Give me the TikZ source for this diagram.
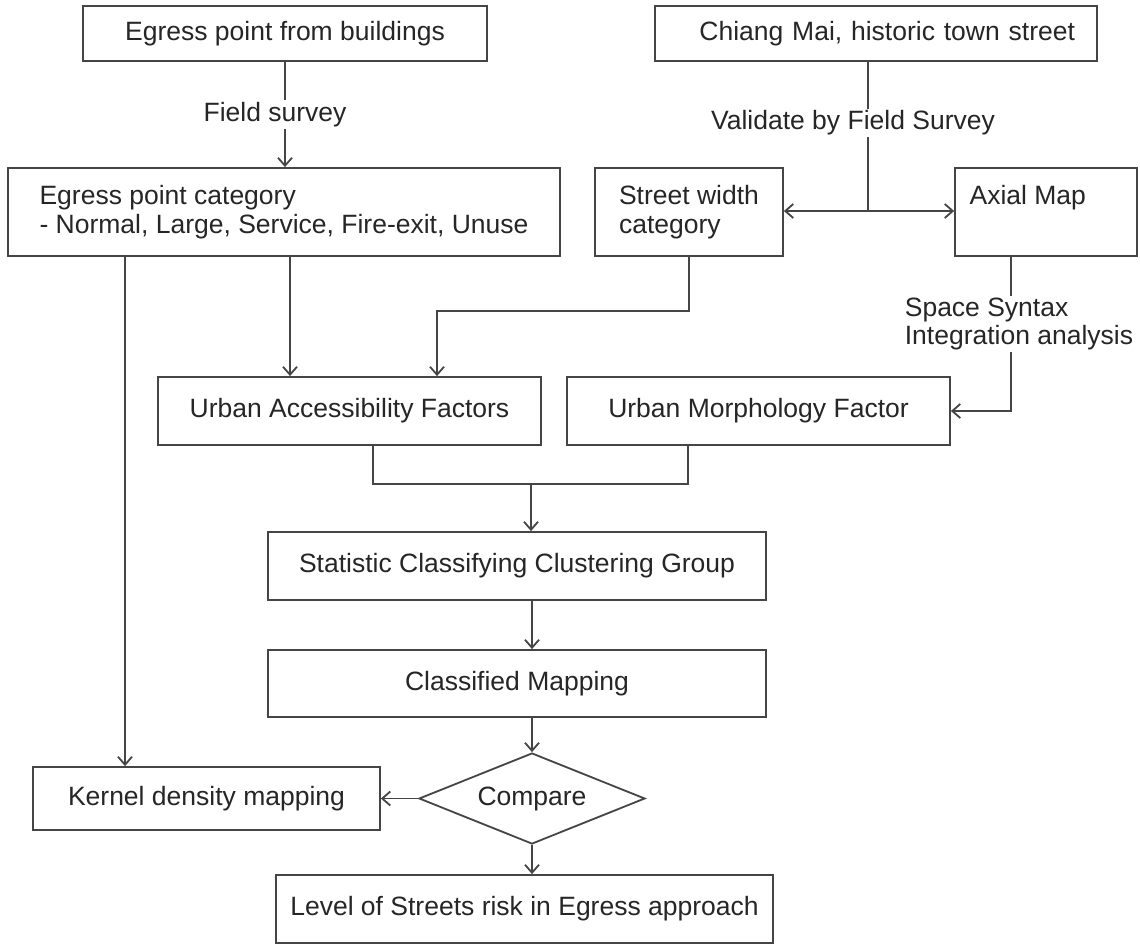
\documentclass[tikz,border=0pt]{standalone}
\usepackage{fontspec}
\setmainfont{Liberation Sans}
\usetikzlibrary{arrows.meta,shapes.geometric,calc}
\definecolor{linec}{HTML}{454545}
\definecolor{txtc}{HTML}{262626}
\tikzset{
  txt/.style={text=txtc, font=\fontsize{26.5pt}{28.5pt}\selectfont},
  box/.style={txt, draw=linec, line width=1.8pt, rectangle, inner sep=0pt, align=center},
  lbl/.style={txt, fill=white, inner sep=2pt, align=left},
  conn/.style={draw=linec, line width=1.8pt},
  arr/.style={conn, -{Straight Barb[length=8pt,width=14pt]}},
}
\begin{document}
\begin{tikzpicture}[x=1pt,y=-1pt]
\fill[white] (0,0) rectangle (1140,944);
\useasboundingbox (0,0) rectangle (1140,944);

% boxes
\node[box, minimum width=404, minimum height=55] (egress) at (285,33.5) {Egress point from buildings};
\node[box, minimum width=442, minimum height=55, text width=398, align=right, inner xsep=22pt] (chiang) at (876,33.5) {Chiang Mai, historic town street};
\node[box, minimum width=552, minimum height=88, align=left] (cat) at (284,212) {Egress point category\\- Normal, Large, Service, Fire-exit, Unuse};
\node[box, minimum width=188, minimum height=88, align=left] (street) at (689,212) {Street width\\category};
\node[box, minimum width=182, minimum height=88] (axial) at (1046,212) {};
\node[txt, anchor=west] (axialt) at ($(axial.north west)+(12,31)$) {Axial Map};
\node[box, minimum width=383, minimum height=68] (access) at (349.5,411) {Urban Accessibility Factors};
\node[box, minimum width=383, minimum height=68] (morph) at (758.5,411) {Urban Morphology Factor};
\node[box, minimum width=498, minimum height=68] (stat) at (517,566) {Statistic Classifying Clustering Group};
\node[box, minimum width=498, minimum height=67] (map) at (517,683.5) {Classified Mapping};
\node[box, minimum width=347, minimum height=63] (kernel) at (206.5,798.5) {Kernel density mapping};
\node[txt, draw=linec, line width=1.8pt, diamond, aspect=2.48, minimum width=226, minimum height=91, inner sep=0pt] (cmp) at (532,798.5) {Compare};
\node[box, minimum width=497, minimum height=68] (level) at (524.5,909) {Level of Streets risk in Egress approach};

% helper coordinates
\coordinate (split) at (868,211);
\coordinate (xA) at (125,0);
\coordinate (xB) at (290,0);
\coordinate (xC) at (437,0);
\coordinate (xD) at (1011,0);
\coordinate (xE) at (373,0);
\coordinate (xF) at (688,0);
\coordinate (merge) at (531,484);

% connectors
\draw[arr] (egress.south) -- node[lbl, xshift=-10pt] {Field survey} (egress.south |- cat.north);

\draw[conn] (split |- chiang.south) -- node[lbl, pos=0.41, xshift=-15pt] {Validate by Field Survey} (split);
\draw[arr] (split) -- (street.east |- split);
\draw[arr] (split) -- (axial.west |- split);

\draw[arr] (cat.south -| xA) -- (kernel.north -| xA);
\draw[arr] (cat.south -| xB) -- (access.north -| xB);
\draw[arr] (street.south) -- ++(0,54) -| (access.north -| xC);

\draw[arr] (axial.south -| xD) |- (morph.east);
\node[lbl] (ssi) at (1019,324) {Space Syntax\\Integration analysis};

\draw[conn] (access.south -| xE) |- (merge) -| (morph.south -| xF);
\draw[arr] (merge) -- (stat.north -| merge);
\draw[arr] (stat.south -| cmp.north) -- (map.north -| cmp.north);
\draw[arr] (map.south -| cmp.north) -- (cmp.north);
\draw[arr] (cmp.west) -- (kernel.east |- cmp.west);
\draw[arr] (cmp.south) -- (level.north -| cmp.south);
\end{tikzpicture}
\end{document}
